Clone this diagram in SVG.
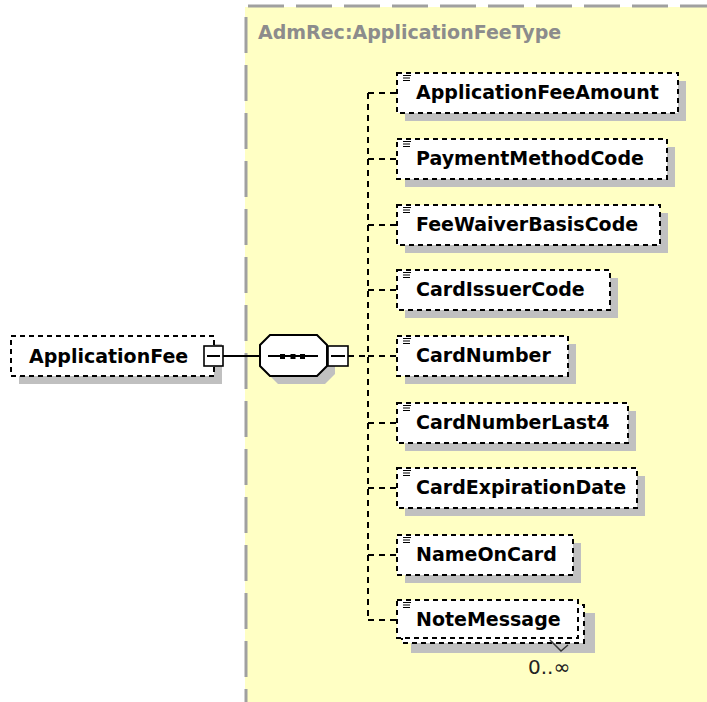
<svg xmlns="http://www.w3.org/2000/svg" xmlns:xlink="http://www.w3.org/1999/xlink" width="707" height="702" viewBox="0 0 707 702">
<style>
  .bg { fill: #ffffc4; }
  .border { stroke: #a0a0a0; stroke-width: 3; stroke-dasharray: 36 12; fill: none; }
  .title { font-family: "DejaVu Sans", Verdana, sans-serif; font-weight: bold; font-size: 19px; fill: #8c8c8c; }
  .shadow { fill: #c0c0c0; }
  .box { fill: #ffffff; stroke: #000000; stroke-width: 2; stroke-dasharray: 5 4; }
  .lbl { font-family: "DejaVu Sans", Verdana, sans-serif; font-weight: bold; font-size: 19px; fill: #000000; }
  .occ { font-family: "DejaVu Sans", Verdana, sans-serif; font-size: 20px; fill: #222222; }
  .icon { stroke: #000000; stroke-width: 1.2; fill: none; }
  .conn { stroke: #000000; stroke-width: 2; stroke-dasharray: 6 5; fill: none; }
  .solid { stroke: #000000; stroke-width: 2; fill: none; }
  .toggle { fill: #ffffff; stroke: #000000; stroke-width: 1.6; }
  .seq { fill: #ffffff; stroke: #000000; stroke-width: 2; }
</style>
<defs>
  <path id="eq" class="icon" d="M0,0.5h8M0,3h7M0,5.5h7"/>
</defs>

<!-- complex type background -->
<g id="type-AdmRec-ApplicationFeeType">
  <rect class="bg" x="245" y="7" width="462" height="695"/>
  <line class="border" x1="248" y1="6" x2="707" y2="6"/>
  <line class="border" x1="246" y1="17" x2="246" y2="702"/>
  <text class="title" x="258" y="39">AdmRec:ApplicationFeeType</text>
</g>

<!-- connectors -->
<g id="connectors">
  <line class="solid" x1="223" y1="356" x2="260" y2="356"/>
  <line class="conn" x1="348" y1="356" x2="368" y2="356"/>
  <line class="conn" x1="368" y1="93" x2="368" y2="620"/>
  <line class="conn" x1="368" y1="93" x2="397" y2="93"/>
  <line class="conn" x1="368" y1="159" x2="397" y2="159"/>
  <line class="conn" x1="368" y1="225" x2="397" y2="225"/>
  <line class="conn" x1="368" y1="290" x2="397" y2="290"/>
  <line class="conn" x1="368" y1="356" x2="397" y2="356"/>
  <line class="conn" x1="368" y1="423" x2="397" y2="423"/>
  <line class="conn" x1="368" y1="488" x2="397" y2="488"/>
  <line class="conn" x1="368" y1="555" x2="397" y2="555"/>
  <line class="conn" x1="368" y1="620" x2="397" y2="620"/>
</g>

<!-- root element -->
<g id="ApplicationFee">
  <rect class="shadow" x="19" y="344" width="203" height="40"/>
  <rect class="box" x="11" y="336" width="203" height="40"/>
  <text class="lbl" x="29" y="363">ApplicationFee</text>
  <rect class="toggle" x="204" y="346" width="19" height="20"/>
  <line class="solid" x1="207" y1="356" x2="220" y2="356" stroke-width="1.6"/>
</g>

<!-- sequence compositor -->
<g id="sequence">
  <polygon class="shadow" points="278,343 325,343 335,353 335,374 325,384 278,384 268,374 268,353"/>
  <polygon class="seq" points="270,335 317,335 327,345 327,366 317,376 270,376 260,366 260,345"/>
  <line class="solid" x1="268" y1="356" x2="318" y2="356"/>
  <rect x="280" y="354" width="5" height="5" fill="#000"/>
  <rect x="290.5" y="354" width="5" height="5" fill="#000"/>
  <rect x="300" y="354" width="5" height="5" fill="#000"/>
  <rect class="toggle" x="328" y="346" width="20" height="20"/>
  <line class="solid" x1="331" y1="356" x2="345" y2="356" stroke-width="1.6"/>
</g>

<g id="ApplicationFeeAmount">
  <rect class="shadow" x="405" y="81" width="281" height="40"/>
  <rect class="box" x="397" y="73" width="281" height="40"/>
  <use xlink:href="#eq" x="403" y="75"/>
  <text class="lbl" x="416" y="99">ApplicationFeeAmount</text>
</g>

<g id="PaymentMethodCode">
  <rect class="shadow" x="405" y="147" width="270" height="40"/>
  <rect class="box" x="397" y="139" width="270" height="40"/>
  <use xlink:href="#eq" x="403" y="141"/>
  <text class="lbl" x="416" y="165">PaymentMethodCode</text>
</g>

<g id="FeeWaiverBasisCode">
  <rect class="shadow" x="405" y="213" width="263" height="40"/>
  <rect class="box" x="397" y="205" width="263" height="40"/>
  <use xlink:href="#eq" x="403" y="207"/>
  <text class="lbl" x="416" y="231">FeeWaiverBasisCode</text>
</g>

<g id="CardIssuerCode">
  <rect class="shadow" x="405" y="278" width="213" height="40"/>
  <rect class="box" x="397" y="270" width="213" height="40"/>
  <use xlink:href="#eq" x="403" y="272"/>
  <text class="lbl" x="416" y="296">CardIssuerCode</text>
</g>

<g id="CardNumber">
  <rect class="shadow" x="405" y="344" width="171" height="40"/>
  <rect class="box" x="397" y="336" width="171" height="40"/>
  <use xlink:href="#eq" x="403" y="338"/>
  <text class="lbl" x="416" y="362">CardNumber</text>
</g>

<g id="CardNumberLast4">
  <rect class="shadow" x="405" y="411" width="231" height="40"/>
  <rect class="box" x="397" y="403" width="231" height="40"/>
  <use xlink:href="#eq" x="403" y="405"/>
  <text class="lbl" x="416" y="429">CardNumberLast4</text>
</g>

<g id="CardExpirationDate">
  <rect class="shadow" x="405" y="476" width="240" height="40"/>
  <rect class="box" x="397" y="468" width="240" height="40"/>
  <use xlink:href="#eq" x="403" y="470"/>
  <text class="lbl" x="416" y="494">CardExpirationDate</text>
</g>

<g id="NameOnCard">
  <rect class="shadow" x="405" y="543" width="176" height="40"/>
  <rect class="box" x="397" y="535" width="176" height="40"/>
  <use xlink:href="#eq" x="403" y="537"/>
  <text class="lbl" x="416" y="561">NameOnCard</text>
</g>

<g id="NoteMessage">
  <rect class="shadow" x="411" y="613" width="184" height="40"/>
  <rect class="box" x="402" y="605" width="182" height="38"/>
  <rect class="box" x="397" y="600" width="181" height="38"/>
  <use xlink:href="#eq" x="403" y="602"/>
  <text class="lbl" x="416" y="626">NoteMessage</text>
  <polyline points="550,640 561,651 568,645" fill="none" stroke="#333" stroke-width="1.5"/>
  <text class="occ" x="528" y="674">0..∞</text>
</g>
</svg>
